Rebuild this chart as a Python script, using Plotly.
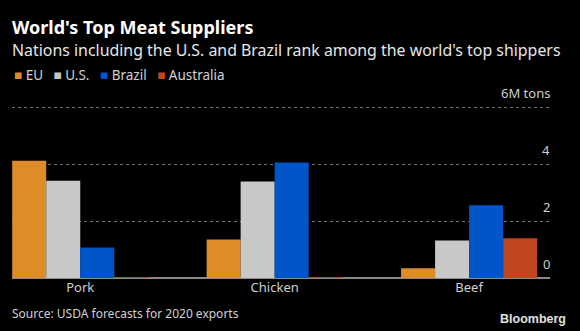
import plotly.graph_objects as go

categories = ["Pork", "Chicken", "Beef"]
series_names = ["EU", "U.S.", "Brazil", "Australia"]
eu = [4.12, 1.35, 0.34]
us = [3.42, 3.39, 1.32]
brazil = [1.07, 4.06, 2.56]
australia = [0.03, 0.03, 1.40]
series_values = [eu, us, brazil, australia]
colors = ["#de8c28", "#c8c8c8", "#0056c9", "#bf461f"]
y_ticks = [0, 2, 4, 6]
y_tick_labels = ["0", "2", "4", "6M tons"]

W, H = 580, 331
L, R = 12, 30
T, B = 105.6, 53
ph = H - T - B

def py(px):
    return (H - B - px) / ph

font = "Noto Sans, Open Sans, sans-serif"
font_b = "Liberation Sans, Arial, sans-serif"

fig = go.Figure()
for name, vals, c in zip(series_names, series_values, colors):
    fig.add_trace(go.Bar(x=categories, y=vals, name=name, marker=dict(color=c, line=dict(width=0)),
                         showlegend=False))

annotations = []
for v, t in zip(y_ticks, y_tick_labels):
    annotations.append(dict(x=1, xref="paper", y=v, yref="y", text=t, showarrow=False,
                            xanchor="right", yanchor="bottom", xshift=2, yshift=3,
                            font=dict(family=font, size=13, color="#cfcfcf")))

annotations.append(dict(x=0, xref="paper", y=py(26), yref="paper", text="<b>World's Top Meat Suppliers</b>",
                        showarrow=False, xanchor="left", yanchor="middle", xshift=-2,
                        font=dict(family=font, size=18, color="#ffffff")))
annotations.append(dict(x=0, xref="paper", y=py(49.5), yref="paper",
                        text="Nations including the U.S. and Brazil rank among the world's top shippers",
                        showarrow=False, xanchor="left", yanchor="middle", xshift=-2,
                        font=dict(family=font, size=15.9, color="#e6e6e6")))
legend_text = "   ".join(f"<span style='color:{c}'>■</span> {n}" for n, c in zip(series_names, colors))
annotations.append(dict(x=0, xref="paper", y=py(75), yref="paper", text=legend_text,
                        showarrow=False, xanchor="left", yanchor="middle", xshift=0,
                        font=dict(family=font, size=13.5, color="#d0d0d0")))
annotations.append(dict(x=0, xref="paper", y=py(314), yref="paper", text="Source: USDA forecasts for 2020 exports",
                        showarrow=False, xanchor="left", yanchor="middle", xshift=-2,
                        font=dict(family=font, size=12, color="#d0d0d0")))
annotations.append(dict(x=1, xref="paper", y=py(319), yref="paper", text="<b>Bloomberg</b>",
                        showarrow=False, xanchor="right", yanchor="middle", xshift=R - 12,
                        font=dict(family=font_b, size=12.5, color="#e0e0e0")))

fig.update_layout(
    width=W, height=H,
    margin=dict(l=L, r=R, t=T, b=B, pad=0),
    paper_bgcolor="#000000", plot_bgcolor="#000000",
    barmode="group", bargap=0.30, bargroupgap=0,
    annotations=annotations,
    xaxis=dict(range=[-0.351, 2.416], showgrid=False, zeroline=False, showline=False,
               ticks="", tickfont=dict(family=font, size=13, color="#d0d0d0"), fixedrange=True),
    yaxis=dict(range=[0, 6.05], tickvals=y_ticks, showticklabels=False, showgrid=True,
               gridcolor="#707070", griddash="dot", gridwidth=1,
               zeroline=True, zerolinecolor="#8a8a8a", zerolinewidth=1.5, showline=False),
)

fig.write_html("out.html")
